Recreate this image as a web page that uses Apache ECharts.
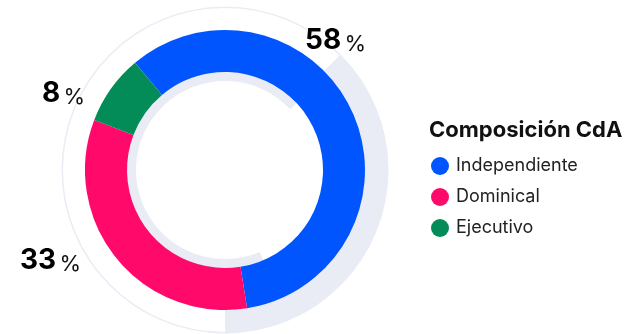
<!DOCTYPE html>
<html>
<head>
<meta charset="utf-8">
<script src="https://cdn.jsdelivr.net/npm/echarts@6/dist/echarts.min.js"></script>
<style>
html, body { margin: 0; padding: 0; background: #fff; }
#chart { width: 638px; height: 334px; }
</style>
</head>
<body>
<div id="chart"></div>
<script>
// datos de la composición del consejo
var categories = ['Independiente', 'Dominical', 'Ejecutivo'];
var values = [58, 33, 8];
var colors = ['#0055FE', '#FF0A6A', '#038C57'];
var legendTitle = 'Composición CdA';
// posiciones de las etiquetas (x izquierda, y centro), mismo orden que categories
var labelPos = [[305, 41], [20, 261], [42, 94]];

var center = [225, 170];
var grey = '#E9ECF4';

var myChart = echarts.init(document.getElementById('chart'));
var option = {
	animation: false,
	title: {
		text: legendTitle,
		left: 424,
		top: 114,
		textStyle: {
			fontFamily: 'Inter',
			fontSize: 22,
			fontWeight: 'bold',
			color: '#111'
		}
	},
	legend: {
		orient: 'vertical',
		left: 426,
		top: 152,
		icon: 'circle',
		itemWidth: 18,
		itemHeight: 18,
		itemGap: 13,
		data: categories,
		textStyle: {
			fontFamily: 'Inter',
			fontSize: 18,
			color: '#222',
			padding: [0, 0, 0, 2]
		}
	},
	series: [
		{ // anillo fino exterior
			type: 'pie',
			silent: true,
			center: center,
			radius: [162, 163.5],
			label: { show: false },
			itemStyle: { color: grey },
			data: [1]
		},
		{ // arco gris grueso
			type: 'pie',
			silent: true,
			center: center,
			radius: [140, 163],
			startAngle: 45,
			label: { show: false },
			data: [
				{ value: 135, itemStyle: { color: grey } },
				{ value: 225, itemStyle: { color: 'transparent' } }
			]
		},
		{ // arco gris interior
			type: 'pie',
			silent: true,
			center: center,
			radius: [89, 99],
			startAngle: -67,
			label: { show: false },
			data: [
				{ value: 250, itemStyle: { color: grey } },
				{ value: 110, itemStyle: { color: 'transparent' } }
			]
		},
		{
			type: 'pie',
			name: legendTitle,
			center: center,
			radius: [98, 140],
			startAngle: 130,
			color: colors,
			labelLine: { show: false },
			label: {
				show: true,
				position: 'outside',
				overflow: 'none',
				formatter: function(p) {
					return '{v|' + p.value + '} {p|%}';
				},
				rich: {
					v: {
						fontFamily: 'Inter',
						fontSize: 28,
						fontWeight: 'bold',
						color: '#000',
						lineHeight: 28,
						verticalAlign: 'bottom'
					},
					p: {
						fontFamily: 'Inter',
						fontSize: 22,
						color: '#111',
						lineHeight: 22,
						verticalAlign: 'bottom'
					}
				}
			},
			labelLayout: function(params) {
				var pos = labelPos[params.dataIndex];
				return {
					x: pos[0],
					y: pos[1],
					align: 'left',
					verticalAlign: 'middle',
					width: 80
				};
			},
			data: categories.map(function(c, i) {
				return { name: c, value: values[i] };
			})
		}
	]
};
myChart.setOption(option);
</script>
</body>
</html>
